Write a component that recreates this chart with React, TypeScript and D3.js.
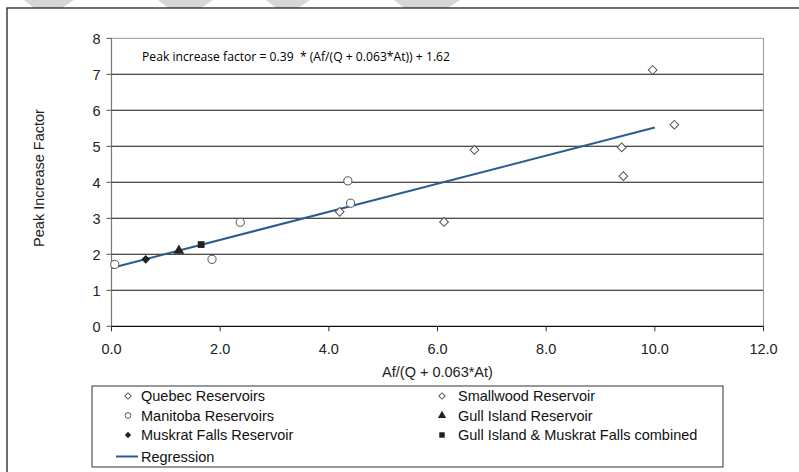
import React from "react";
import * as d3 from "d3";

// values
const quebecX = [4.2, 6.12, 6.68, 9.39, 9.42, 9.96];
const quebecY = [3.18, 2.9, 4.9, 4.97, 4.17, 7.12];
const smallwoodX = [10.36];
const smallwoodY = [5.6];
const manitobaX = [0.06, 1.85, 2.37, 4.35, 4.4];
const manitobaY = [1.72, 1.86, 2.89, 4.04, 3.42];
const muskratX = [0.63];
const muskratY = [1.86];
const gullX = [1.24];
const gullY = [2.1];
const combinedX = [1.65];
const combinedY = [2.27];
const regressionX = [0, 10];
const regressionY = [1.62, 5.52];

const xTicks = [0, 2, 4, 6, 8, 10, 12];
const yTicks = [0, 1, 2, 3, 4, 5, 6, 7, 8];

const legendLeft = ["Quebec Reservoirs", "Manitoba Reservoirs", "Muskrat Falls Reservoir", "Regression"];
const legendRight = ["Smallwood Reservoir", "Gull Island Reservoir", "Gull Island & Muskrat Falls combined"];

const W = 799;
const H = 472;
const FONT = "'Liberation Sans', Arial, sans-serif";
const BLUE = "#2b5b92";

const zip = (xs: number[], ys: number[]) => xs.map((v, i) => [v, ys[i]] as [number, number]);

export default function App() {
  const x = d3.scaleLinear().domain([0, 12]).range([111.5, 763.5]);
  const y = d3.scaleLinear().domain([0, 8]).range([326.3, 38.3]);

  const diamond = d3.symbol(d3.symbolSquare, 38)()!;
  const circle = d3.symbol(d3.symbolCircle, 52)()!;
  const tri = d3.symbol(d3.symbolTriangle, 50)()!;
  const square = d3.symbol(d3.symbolSquare, 46)()!;
  const smDiamond = d3.symbol(d3.symbolSquare, 20)()!;
  const smCircle = d3.symbol(d3.symbolCircle, 26)()!;
  const smTri = d3.symbol(d3.symbolTriangle, 30)()!;
  const smSquare = d3.symbol(d3.symbolSquare, 30)()!;

  const line = d3
    .line<[number, number]>()
    .x((d) => x(d[0]))
    .y((d) => y(d[1]));

  const [x0, x1] = x.range();
  const [yb, yt] = y.range();

  // faint watermark stripes along the top edge
  const stripes = [24, 158, 266, 394].map((s, i) => {
    const w = [50, 55, 44, 66][i];
    return `M${s},0L${s + w},0L${s + w - 12},8L${s + 10},8Z`;
  });

  const rowY = [396, 415.5, 435, 456.5];

  return (
    <div style={{ position: "fixed", left: 0, top: 0 }}>
      <svg width={W} height={H} style={{ display: "block", background: "#fff" }}>
        {stripes.map((d, i) => (
          <path key={i} d={d} fill="#d6d6d6" />
        ))}
        {/* outer frame */}
        <rect x={7} y={8} width={W + 20} height={H + 20} fill="none" stroke="#222" strokeWidth={1.3} />

        {/* gridlines */}
        {yTicks.slice(1, -1).map((t) => (
          <line key={t} x1={x0} x2={x1} y1={y(t)} y2={y(t)} stroke="#111" strokeWidth={1.1} />
        ))}
        {/* plot border top/right */}
        <line x1={x0} x2={x1} y1={yt} y2={yt} stroke="#999" strokeWidth={1} />
        <line x1={x1} x2={x1} y1={yt} y2={yb} stroke="#999" strokeWidth={1} />
        {/* y axis */}
        <line x1={x0} x2={x0} y1={yt} y2={yb} stroke="#777" strokeWidth={1.2} />
        {yTicks.map((t) => (
          <g key={t}>
            <line x1={x0 - 5} x2={x0} y1={y(t)} y2={y(t)} stroke="#555" />
            <text x={x0 - 11} y={y(t)} dy="0.36em" textAnchor="end" fontFamily={FONT} fontSize={14.5} fill="#222">
              {t}
            </text>
          </g>
        ))}
        {/* x axis */}
        <line x1={x0} x2={x1} y1={yb} y2={yb} stroke="#111" strokeWidth={1.2} />
        {xTicks.map((t) => (
          <g key={t}>
            <line x1={x(t)} x2={x(t)} y1={yb} y2={yb + 5} stroke="#333" />
            <text x={x(t)} y={353.5} textAnchor="middle" fontFamily={FONT} fontSize={14.5} fill="#222">
              {t.toFixed(1)}
            </text>
          </g>
        ))}

        <text x={(x0 + x1) / 2} y={377} textAnchor="middle" fontFamily={FONT} fontSize={14.5} fill="#222">
          Af/(Q + 0.063*At)
        </text>
        <text
          transform={`translate(44,${178}) rotate(-90)`}
          textAnchor="middle"
          fontFamily={FONT}
          fontSize={14.5}
          fill="#222"
        >
          Peak Increase Factor
        </text>

        <text
          x={142}
          y={61}
          fontFamily="'Open Sans', Calibri, sans-serif"
          fontSize={12.5}
          fill="#000"
          textLength={308}
          lengthAdjust="spacingAndGlyphs"
          style={{ whiteSpace: "pre" }}
        >
          {"Peak increase factor = 0.39  * (Af/(Q + 0.063*At)) + 1.62"}
        </text>

        {/* regression */}
        <path d={line(zip(regressionX, regressionY))!} fill="none" stroke={BLUE} strokeWidth={2} />

        {/* points */}
        {zip(quebecX, quebecY).map(([a, b], i) => (
          <path key={"q" + i} d={diamond} transform={`translate(${x(a)},${y(b)}) rotate(45)`} fill="#fff" stroke="#555" strokeWidth={1} />
        ))}
        {zip(smallwoodX, smallwoodY).map(([a, b], i) => (
          <path key={"s" + i} d={diamond} transform={`translate(${x(a)},${y(b)}) rotate(45)`} fill="#fff" stroke="#555" strokeWidth={1} />
        ))}
        {zip(manitobaX, manitobaY).map(([a, b], i) => (
          <path key={"m" + i} d={circle} transform={`translate(${x(a)},${y(b)})`} fill="#fff" stroke="#555" strokeWidth={1} />
        ))}
        {zip(muskratX, muskratY).map(([a, b], i) => (
          <path key={"k" + i} d={diamond} transform={`translate(${x(a)},${y(b)}) rotate(45)`} fill="#222" />
        ))}
        {zip(gullX, gullY).map(([a, b], i) => (
          <path key={"g" + i} d={tri} transform={`translate(${x(a)},${y(b)})`} fill="#222" />
        ))}
        {zip(combinedX, combinedY).map(([a, b], i) => (
          <path key={"c" + i} d={square} transform={`translate(${x(a)},${y(b)})`} fill="#222" />
        ))}

        {/* legend */}
        <rect x={92} y={386} width={631} height={81} fill="#fff" stroke="#333" strokeWidth={1} />
        {legendLeft.map((label, i) => (
          <text key={label} x={141} y={rowY[i]} dy="0.36em" fontFamily={FONT} fontSize={14.5} fill="#111">
            {label}
          </text>
        ))}
        {legendRight.map((label, i) => (
          <text key={label} x={458} y={rowY[i]} dy="0.36em" fontFamily={FONT} fontSize={14.5} fill="#111">
            {label}
          </text>
        ))}
        <path d={smDiamond} transform={`translate(128,${rowY[0]}) rotate(45)`} fill="#fff" stroke="#555" />
        <path d={smCircle} transform={`translate(128,${rowY[1]})`} fill="#fff" stroke="#555" />
        <path d={smDiamond} transform={`translate(128,${rowY[2]}) rotate(45)`} fill="#222" />
        <line x1={116} x2={138} y1={rowY[3]} y2={rowY[3]} stroke={BLUE} strokeWidth={2} />
        <path d={smDiamond} transform={`translate(442,${rowY[0]}) rotate(45)`} fill="#fff" stroke="#555" />
        <path d={smTri} transform={`translate(442,${rowY[1]})`} fill="#222" />
        <path d={smSquare} transform={`translate(442,${rowY[2]})`} fill="#222" />
      </svg>
    </div>
  );
}
